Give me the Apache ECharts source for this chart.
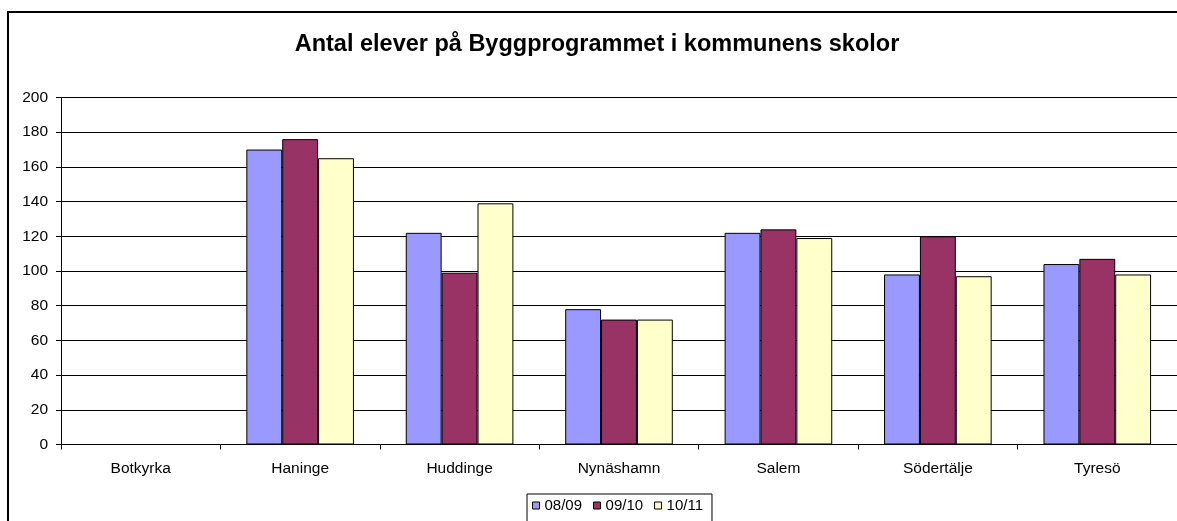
<!DOCTYPE html>
<html>
<head>
<meta charset="utf-8">
<title>Antal elever på Byggprogrammet</title>
<script src="https://cdn.jsdelivr.net/npm/echarts@6/dist/echarts.min.js"></script>
<style>
html,body{margin:0;padding:0;background:#fff;}
#chart{width:1177px;height:521px;}
</style>
</head>
<body>
<div id="chart"></div>
<script>
var kommuner=['Botkyrka','Haninge','Huddinge','Nynäshamn','Salem','Södertälje','Tyresö'];
var lasar=['08/09','09/10','10/11'];
var v0809=[null,170,122,78,122,98,104];
var v0910=[null,176,99,72,124,120,107];
var v1011=[null,165,139,72,119,97,98];
var farger=['#9999FF','#993366','#FFFFCC'];

var fontFam='"Liberation Sans", Arial, sans-serif';

function bar(name,data,color){
	return {
		type:'bar',
		name:name,
		data:data,
		barGap:'0%',
		barCategoryGap:'32.5%',
		itemStyle:{color:color,borderColor:'#000',borderWidth:1},
		emphasis:{disabled:true}
	};
}

var myChart=echarts.init(document.getElementById('chart'),null,{renderer:'canvas'});
var option={
	backgroundColor:'#fff',
	animation:false,
	title:{
		text:'Antal elever på Byggprogrammet i kommunens skolor',
		left:597,
		textAlign:'center',
		top:33,
		padding:0,
		textStyle:{fontFamily:fontFam,fontSize:23.5,fontWeight:'bold',color:'#000'}
	},
	legend:{
		data:lasar,
		left:527,
		top:494,
		padding:[4,9,12,5],
		borderColor:'#000',
		borderWidth:1,
		itemWidth:7,
		itemHeight:7,
		itemGap:11,
		icon:'rect',
		itemStyle:{borderColor:'#000',borderWidth:1},
		textStyle:{fontFamily:fontFam,fontSize:15,color:'#000'}
	},
	grid:{left:61,right:-4,top:97.5,bottom:76.5,containLabel:false},
	xAxis:{
		type:'category',
		data:kommuner,
		axisLine:{lineStyle:{color:'#000',width:1}},
		axisTick:{show:true,length:5,lineStyle:{color:'#000'}},
		axisLabel:{fontFamily:fontFam,fontSize:15.5,color:'#000',margin:16,interval:0},
		splitLine:{show:false}
	},
	yAxis:{
		type:'value',
		min:0,
		max:200,
		interval:20,
		axisLine:{show:true,lineStyle:{color:'#000',width:1}},
		axisTick:{show:true,length:5,lineStyle:{color:'#000'}},
		axisLabel:{fontFamily:fontFam,fontSize:15.5,color:'#000',margin:13},
		splitLine:{show:true,lineStyle:{color:'#000',width:1}}
	},
	graphic:[{
		type:'rect',
		shape:{x:8,y:12,width:1200,height:600},
		style:{fill:null,stroke:'#000',lineWidth:2},
		silent:true,
		z:100
	}],
	series:[
		bar(lasar[0],v0809,farger[0]),
		bar(lasar[1],v0910,farger[1]),
		bar(lasar[2],v1011,farger[2])
	]
};
myChart.setOption(option);
</script>
</body>
</html>
